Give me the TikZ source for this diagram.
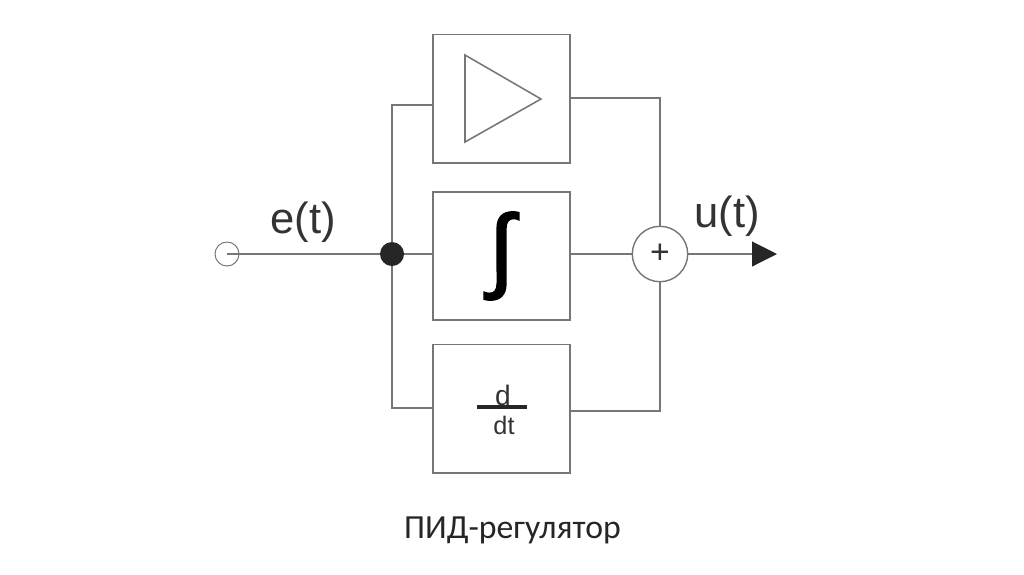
\documentclass[tikz,border=0pt]{standalone}
\usepackage{fontspec}
\setmainfont{Liberation Sans}
\newfontfamily\captionfont{Carlito}
\newfontfamily\integralfont[FakeBold=2]{Liberation Sans}
\usetikzlibrary{arrows.meta, positioning, calc}
\definecolor{linegray}{HTML}{767676}
\definecolor{textgray}{HTML}{333333}

\begin{document}
\begin{tikzpicture}[x=0.025cm, y=-0.025cm,
        blockbox/.style={rectangle, draw=linegray, line width=1.4pt, fill=white, inner sep=0pt, minimum width=3.425cm, minimum height=3.2cm},
        signallabel/.style={font=\fontsize{31}{36}\selectfont, text=textgray, inner sep=0pt},
        wire/.style={draw=linegray, line width=1.3pt}]
        \useasboundingbox (0,0) rectangle (1024,574);

        \coordinate (pin) at (433,105);
        \coordinate (pout) at (570,98);
        \coordinate (iin) at (433,254);
        \coordinate (iout) at (570,254);
        \coordinate (din) at (433,408);
        \coordinate (dout) at (570,411);
        \coordinate (uend) at (777,254);
        \coordinate (tri1) at (465,55);
        \coordinate (tri2) at (541,99);
        \coordinate (tri3) at (465,142);
        \coordinate (bar1) at (477,407);
        \coordinate (bar2) at (527,407);

        \node[circle, draw=linegray, line width=0.7pt, inner sep=0pt, minimum size=0.6cm] (innode) at (227,254) {};
        \node[circle, fill=black!85, inner sep=0pt, minimum size=0.6cm] (junction) at (392,254) {};
        \node[circle, draw=linegray, line width=1pt, fill=white, inner sep=0pt, minimum size=1.385cm, font=\fontsize{24}{24}\selectfont, text=textgray] (sumnode) at (660,254) {+};

        \node[blockbox] (pblock) at (501.5,98.5) {};
        \node[blockbox] (iblock) at (501.5,256) {\integralfont\fontsize{66}{66}\selectfont ∫};
        \node[blockbox] (dblock) at (501.5,408.5) {};

        \draw[wire] (innode.center) -- (junction);
        \draw[wire] (junction) -- (iin);
        \draw[wire] (junction) |- (pin);
        \draw[wire] (junction) |- (din);
        \draw[wire] (pout) -| (sumnode);
        \draw[wire] (iout) -- (sumnode);
        \draw[wire] (dout) -| (sumnode);
        \draw[wire, -{Triangle[length=0.625cm, width=0.62cm, color=black!85]}] (sumnode) -- (uend);
        \draw[draw=linegray, line width=1.1pt] (tri1) -- (tri2) -- (tri3) -- cycle;
        \draw[draw=black!85, line width=2.4pt] (bar1) -- (bar2);

        \node[signallabel] (elabel) at (303,222) {e(t)};
        \node[signallabel] (ulabel) at (727,216) {u(t)};
        \node[font=\fontsize{20}{24}\selectfont, text=textgray, inner sep=0pt, anchor=base] (dlabel) at (503,405) {d};
        \node[font=\fontsize{18}{24}\selectfont, text=textgray, inner sep=0pt, anchor=base] (dtlabel) at (504,434) {dt};
        \node[font=\captionfont\fontsize{24}{28}\selectfont, text=black!85, inner sep=0pt, anchor=base] (caption) at (512.5,538) {ПИД-регулятор};
    \end{tikzpicture}
\end{document}
